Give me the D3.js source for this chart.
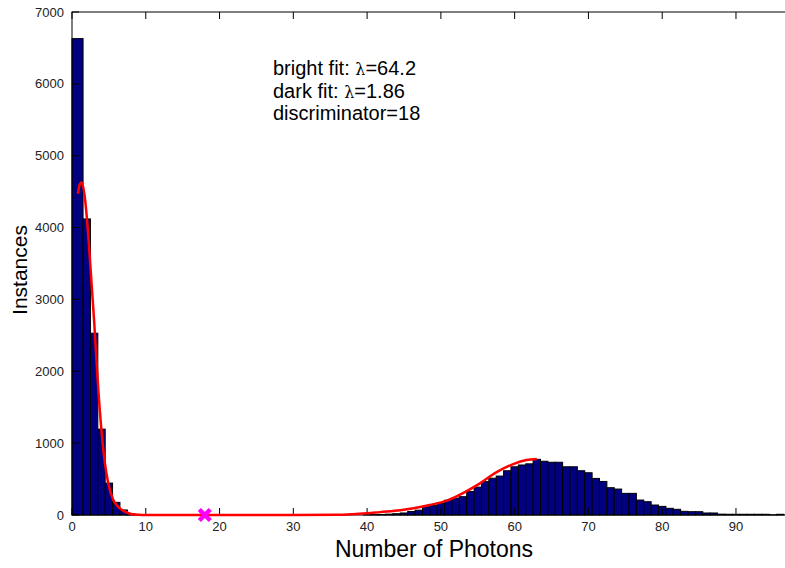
<!DOCTYPE html>
<html>
<head>
<meta charset="utf-8">
<script src="https://cdn.jsdelivr.net/npm/d3@7"></script>
<style>
  body { margin: 0; background: #fff; }
  svg { display: block; font-family: "Liberation Sans", Arial, sans-serif; }
</style>
</head>
<body>
<div id="chart"></div>
<script>
(function(){
  'use strict';

  // histogram bins (photon counts) and instances per bin
  var photonBins = [1,2,3,4,5,6,7,8,9,10,11,12,13,14,15,16,17,18,19,20,
    21,22,23,24,25,26,27,28,29,30,31,32,33,34,35,36,37,38,39,40,
    41,42,43,44,45,46,47,48,49,50,51,52,53,54,55,56,57,58,59,60,
    61,62,63,64,65,66,67,68,69,70,71,72,73,74,75,76,77,78,79,80,
    81,82,83,84,85,86,87,88,89,90,91,92,93,94,95,96];
  var instances = [6630,4120,2530,1195,444,176,70,18,5,2,0,0,0,0,0,0,0,0,0,0,
    0,0,0,0,0,0,0,0,0,0,0,0,0,0,0,0,0,0,0,3,
    5,8,12,18,28,48,67,116,134,162,206,235,255,326,388,465,512,542,616,671,
    696,712,775,748,734,734,671,671,616,588,509,467,380,361,301,301,208,185,139,120,
    93,79,51,46,46,28,28,12,10,10,10,10,10,10,3,10];

  // fitted curve (dark + bright poisson)
  var fitX = [0.8,1.05,1.3,1.7,2.2,2.6,3.0,3.5,4.0,4.45,4.9,5.55,6.2,7.1,8.0,9.0,10,20,30,36,38,40,
    41.75,44.5,46.3,48.5,50.8,53.0,55.3,57.5,59.8,61.6,63.0];
  var fitY = [4470,4600,4630,4450,3900,3300,2700,1850,1170,730,450,220,120,50,15,3,0,0,0,2,10,24,
    40,65,93,139,199,305,440,593,708,764,778];

  var discriminator = 18;
  var notes = ['bright fit: ', 'dark fit: ', 'discriminator=18'];
  var noteValues = ['=64.2', '=1.86', null];

  var xTicks = [0,10,20,30,40,50,60,70,80,90];
  var yTicks = [0,1000,2000,3000,4000,5000,6000,7000];
  var xMax = 98;

  var width = 785,
      height = 568,
      margin = {top: 12, right: -10, bottom: 53, left: 72};

  var svg = d3.select('#chart').append('svg')
      .attr('width', width)
      .attr('height', height);

  var x = d3.scaleLinear().domain([0, xMax]).range([margin.left, width - margin.right]);
  var y = d3.scaleLinear().domain([0, 7000]).range([height - margin.bottom, margin.top]);

  // bars
  svg.append('g')
    .selectAll('rect')
    .data(photonBins.map(function(b, i){ return {bin: b, n: instances[i], first: i === 0}; })
      .filter(function(d){ return d.n > 0; }))
    .enter().append('rect')
      .attr('x', function(d){ return x(d.first ? 0 : d.bin - 0.5); })
      .attr('width', function(d){ return x(d.bin + 0.5) - x(d.first ? 0 : d.bin - 0.5); })
      .attr('y', function(d){ return y(d.n); })
      .attr('height', function(d){ return y(0) - y(d.n); })
      .attr('fill', '#000080')
      .attr('stroke', '#000')
      .attr('stroke-width', 1);

  // axes box
  svg.append('rect')
    .attr('x', x(0)).attr('y', y(7000))
    .attr('width', x(xMax) - x(0)).attr('height', y(0) - y(7000))
    .attr('fill', 'none').attr('stroke', '#000').attr('stroke-width', 1);

  var tickLen = 7;
  var ax = svg.append('g').attr('stroke', '#000').attr('stroke-width', 1);
  xTicks.forEach(function(t){
    ax.append('line').attr('x1', x(t)).attr('x2', x(t)).attr('y1', y(0)).attr('y2', y(0) - tickLen);
    ax.append('line').attr('x1', x(t)).attr('x2', x(t)).attr('y1', y(7000)).attr('y2', y(7000) + tickLen);
  });
  yTicks.forEach(function(t){
    ax.append('line').attr('x1', x(0)).attr('x2', x(0) + tickLen).attr('y1', y(t)).attr('y2', y(t));
    ax.append('line').attr('x1', x(xMax)).attr('x2', x(xMax) - tickLen).attr('y1', y(t)).attr('y2', y(t));
  });

  svg.append('g').selectAll('text').data(xTicks).enter().append('text')
    .attr('x', function(d){ return x(d); })
    .attr('y', y(0) + 16)
    .attr('text-anchor', 'middle')
    .style('font-size', '13px').style('fill', '#222')
    .text(function(d){ return d; });

  svg.append('g').selectAll('text').data(yTicks).enter().append('text')
    .attr('x', x(0) - 8)
    .attr('y', function(d){ return y(d) + 4.5; })
    .attr('text-anchor', 'end')
    .style('font-size', '13px').style('fill', '#222')
    .text(function(d){ return d; });

  // fit curve
  var line = d3.line()
    .x(function(d){ return x(d[0]); })
    .y(function(d){ return y(d[1]); })
    .curve(d3.curveMonotoneX);

  svg.append('path')
    .datum(fitX.map(function(v, i){ return [v, fitY[i]]; }))
    .attr('d', line)
    .attr('fill', 'none')
    .attr('stroke', '#ff0000')
    .attr('stroke-width', 2.5);

  // discriminator marker
  var mx = x(discriminator), my = y(0), s = 5.5;
  svg.append('path')
    .attr('d', 'M' + (mx - s) + ',' + (my - s) + 'L' + (mx + s) + ',' + (my + s) +
               'M' + (mx - s) + ',' + (my + s) + 'L' + (mx + s) + ',' + (my - s))
    .attr('stroke', '#ff00ff')
    .attr('stroke-width', 4.5)
    .attr('fill', 'none');

  // annotation
  var note = svg.append('g').style('font-size', '20px').style('fill', '#000');
  notes.forEach(function(n, i){
    var t = note.append('text').attr('x', 273).attr('y', 75 + i * 22.5);
    t.append('tspan').text(n);
    if (noteValues[i]) {
      t.append('tspan').style('font-family', '"DejaVu Serif", serif').style('font-size', '16px').text('\u03bb');
      t.append('tspan').text(noteValues[i]);
    }
  });

  // axis labels
  svg.append('text')
    .attr('x', 434).attr('y', 557)
    .attr('text-anchor', 'middle')
    .style('font-size', '23px')
    .text('Number of Photons');

  svg.append('text')
    .attr('transform', 'translate(27,' + 270 + ') rotate(-90)')
    .attr('text-anchor', 'middle')
    .style('font-size', '21px')
    .text('Instances');
})();
</script>
</body>
</html>
